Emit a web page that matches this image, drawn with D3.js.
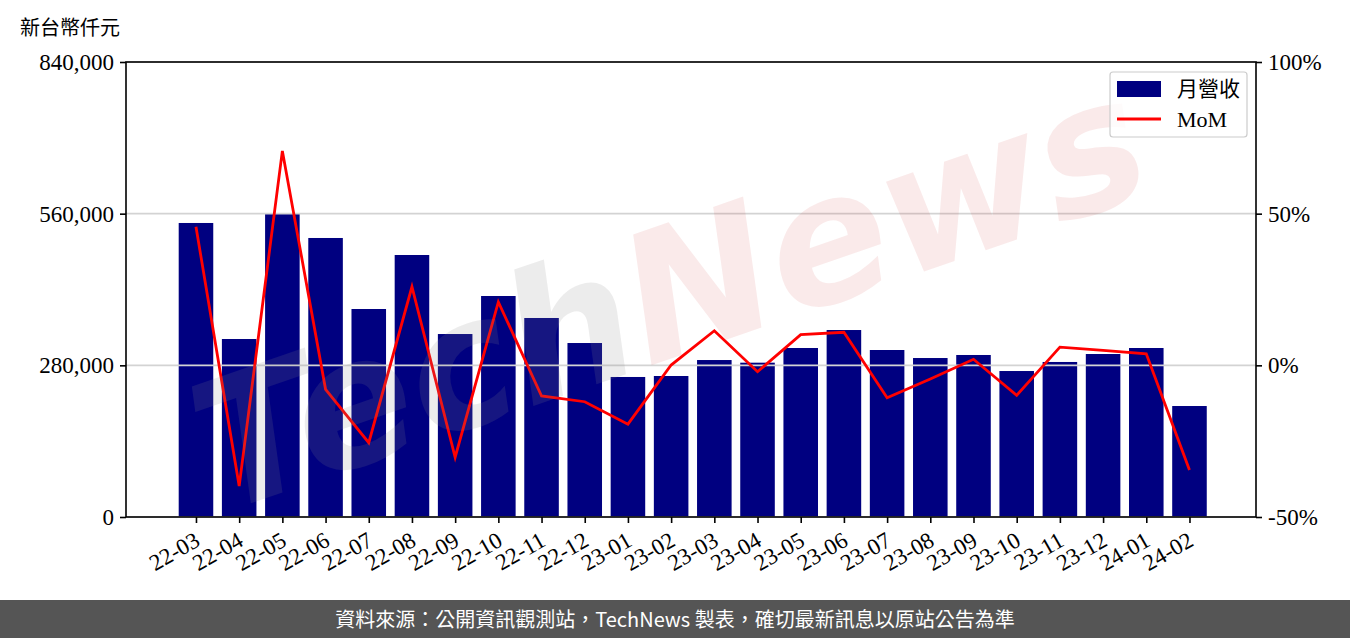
<!DOCTYPE html>
<html>
<head>
<meta charset="utf-8">
<script src="https://cdn.jsdelivr.net/npm/d3@7"></script>
<style>
  html, body { margin: 0; padding: 0; background: #fff; }
  svg { display: block; }
</style>
</head>
<body>
<div id="chart"></div>
<script>
const months = ["22-03","22-04","22-05","22-06","22-07","22-08","22-09","22-10","22-11","22-12",
  "23-01","23-02","23-03","23-04","23-05","23-06","23-07","23-08","23-09","23-10","23-11","23-12","24-01","24-02"];
const revenue = [542800, 328600, 561200, 515100, 384000, 483700, 337800, 408000, 367400, 321200,
  258500, 260300, 289800, 284900, 312000, 345200, 308300, 293500, 299100, 269500, 286200, 300900, 312000, 204900];
const mom = [45.7, -39.8, 70.7, -7.9, -25.5, 25.9, -30.3, 20.9, -10.1, -12.0,
  -19.4, 0.1, 11.4, -2.1, 10.1, 10.9, -10.7, -4.5, 2.0, -9.9, 6.0, 4.9, 3.8, -34.5];
const leftTicks = [0, 280000, 560000, 840000];
const rightTicks = [-50, 0, 50, 100];

const W = 1350, H = 638;
const L = 126, R = 1256, T = 62, B = 517;
const serif = "'Liberation Serif', 'Noto Sans CJK TC', serif";

const svg = d3.select("#chart").append("svg").attr("width", W).attr("height", H);

svg.append("defs").append("clipPath").attr("id", "plotclip")
  .append("rect").attr("x", L).attr("y", T).attr("width", R - L).attr("height", B - T);

const x = d3.scaleLinear().domain([-1.62, 24.54]).range([L, R]);
const yL = d3.scaleLinear().domain([0, 840000]).range([B, T]);
const yR = d3.scaleLinear().domain([-50, 100]).range([B, T]);
const bw = x(0.4) - x(-0.4);

// bars
svg.append("g").selectAll("rect").data(revenue).join("rect")
  .attr("x", (d, i) => x(i - 0.4))
  .attr("y", d => yL(d))
  .attr("width", bw)
  .attr("height", d => B - yL(d))
  .attr("fill", "#000080");

// grid (from twin axis, drawn above bars)
svg.append("g").selectAll("line").data(rightTicks).join("line")
  .attr("x1", L).attr("x2", R)
  .attr("y1", d => yR(d)).attr("y2", d => yR(d))
  .attr("stroke", "#d3d3d3").attr("stroke-width", 1.6);

// MoM line
const line = d3.line().x((d, i) => x(i)).y(d => yR(d));
svg.append("path").datum(mom)
  .attr("d", line)
  .attr("fill", "none")
  .attr("stroke", "#ff0000")
  .attr("stroke-width", 2.8)
  .attr("stroke-linejoin", "miter");

// watermark
const wm = svg.append("g").attr("clip-path", "url(#plotclip)")
  .append("g")
  .attr("transform", "translate(690,352) rotate(-19)")
  .style("pointer-events", "none");
const wt = wm.append("text")
  .attr("text-anchor", "middle")
  .attr("font-family", "'DejaVu Sans', sans-serif")
  .attr("font-weight", "bold")
  .attr("font-style", "italic")
  .attr("font-size", 178);
wt.append("tspan").text("Tech").attr("fill", "#888888").attr("fill-opacity", 0.16);
wt.append("tspan").text("News").attr("fill", "#d04040").attr("fill-opacity", 0.11);

// frame
svg.append("rect").attr("x", L).attr("y", T).attr("width", R - L).attr("height", B - T)
  .attr("fill", "none").attr("stroke", "#000").attr("stroke-width", 1.6);

// axes
const axL = svg.append("g").attr("transform", `translate(${L},0)`)
  .call(d3.axisLeft(yL).tickValues(leftTicks).tickFormat(d3.format(",")).tickSize(6).tickPadding(6));
const axR = svg.append("g").attr("transform", `translate(${R},0)`)
  .call(d3.axisRight(yR).tickValues(rightTicks).tickFormat(d => d + "%").tickSize(6).tickPadding(6));
const axB = svg.append("g").attr("transform", `translate(0,${B})`)
  .call(d3.axisBottom(x).tickValues(d3.range(months.length)).tickFormat(i => months[i]).tickSize(6).tickPadding(4));

[axL, axR, axB].forEach(a => {
  a.select(".domain").remove();
  a.selectAll(".tick line").attr("stroke", "#000").attr("stroke-width", 1.6);
  a.selectAll(".tick text").attr("font-family", serif).attr("font-size", 23).attr("fill", "#000");
});
axB.selectAll(".tick text")
  .attr("text-anchor", "end")
  .attr("dy", "0.35em")
  .attr("transform", "translate(-4,12) rotate(-30)");

// unit label
svg.append("text").attr("x", 20).attr("y", 35)
  .attr("font-family", serif).attr("font-size", 20).text("新台幣仟元");

// legend
const lg = svg.append("g");
lg.append("rect").attr("x", 1110).attr("y", 72).attr("width", 137).attr("height", 65)
  .attr("rx", 3).attr("fill", "#fff").attr("fill-opacity", 0.8)
  .attr("stroke", "#cccccc").attr("stroke-width", 1.2);
lg.append("rect").attr("x", 1117).attr("y", 81).attr("width", 44).attr("height", 16).attr("fill", "#000080");
lg.append("line").attr("x1", 1117).attr("x2", 1161).attr("y1", 119).attr("y2", 119)
  .attr("stroke", "#ff0000").attr("stroke-width", 3);
lg.append("text").attr("x", 1177).attr("y", 96).attr("font-family", serif).attr("font-size", 21).text("月營收");
lg.append("text").attr("x", 1177).attr("y", 127).attr("font-family", serif).attr("font-size", 22).text("MoM");

// footer
svg.append("rect").attr("x", 0).attr("y", 600).attr("width", W).attr("height", 38).attr("fill", "#555555");
svg.append("text").attr("x", 675).attr("y", 627).attr("text-anchor", "middle")
  .attr("font-family", "'Noto Sans CJK TC', sans-serif").attr("font-size", 20).attr("fill", "#fff")
  .text("資料來源：公開資訊觀測站，TechNews 製表，確切最新訊息以原站公告為準");
</script>
</body>
</html>
